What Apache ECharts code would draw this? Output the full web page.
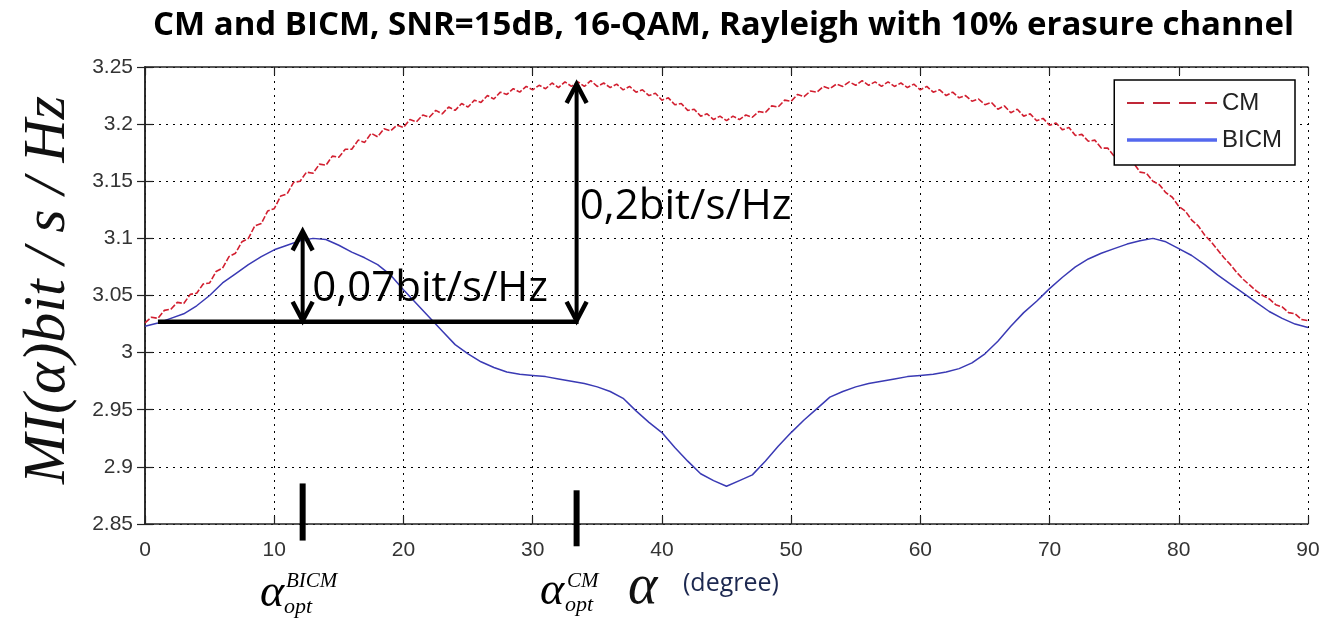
<!DOCTYPE html>
<html>
<head>
<meta charset="utf-8">
<script src="https://cdn.jsdelivr.net/npm/echarts@6/dist/echarts.min.js"></script>
<style>
  html, body { margin: 0; padding: 0; background: #fff; }
  #chart { width: 1323px; height: 618px; }
</style>
</head>
<body>
<div id="chart"></div>
<script>
// Mutual information vs rotation angle alpha (degrees), 16-QAM, SNR = 15 dB
const cmStep = 0.5;   // CM sampled every 0.5 degree
const bicmStep = 1;   // BICM sampled every 1 degree

const cmValues = [
  3.026, 3.031, 3.030, 3.037, 3.038, 3.044, 3.043, 3.051, 3.052, 3.060,
  3.061, 3.071, 3.074, 3.084, 3.087, 3.097, 3.100, 3.111, 3.113, 3.124,
  3.126, 3.137, 3.139, 3.149, 3.150, 3.158, 3.157, 3.165, 3.164, 3.172,
  3.171, 3.178, 3.178, 3.186, 3.184, 3.192, 3.189, 3.196, 3.194, 3.199,
  3.197, 3.204, 3.202, 3.208, 3.206, 3.212, 3.209, 3.215, 3.212, 3.218,
  3.215, 3.221, 3.219, 3.225, 3.222, 3.228, 3.226, 3.231, 3.228, 3.233,
  3.230, 3.234, 3.231, 3.236, 3.232, 3.237, 3.233, 3.237, 3.233, 3.238,
  3.233, 3.236, 3.232, 3.235, 3.230, 3.233, 3.228, 3.230, 3.225, 3.227,
  3.221, 3.223, 3.217, 3.218, 3.212, 3.213, 3.207, 3.209, 3.204, 3.207,
  3.203, 3.207, 3.204, 3.208, 3.206, 3.211, 3.210, 3.216, 3.215, 3.221,
  3.220, 3.226, 3.224, 3.229, 3.228, 3.233, 3.231, 3.235, 3.233, 3.237,
  3.234, 3.238, 3.234, 3.237, 3.233, 3.237, 3.233, 3.236, 3.232, 3.235,
  3.230, 3.233, 3.228, 3.230, 3.225, 3.228, 3.223, 3.225, 3.220, 3.222,
  3.217, 3.219, 3.213, 3.216, 3.210, 3.213, 3.207, 3.209, 3.203, 3.205,
  3.199, 3.201, 3.195, 3.197, 3.190, 3.191, 3.185, 3.186, 3.179, 3.179,
  3.172, 3.172, 3.165, 3.166, 3.158, 3.157, 3.150, 3.147, 3.140, 3.136,
  3.128, 3.124, 3.116, 3.111, 3.103, 3.097, 3.090, 3.083, 3.077, 3.070,
  3.064, 3.059, 3.054, 3.050, 3.047, 3.042, 3.040, 3.035, 3.034, 3.029,
  3.028
];

const bicmValues = [
  3.023, 3.026, 3.030, 3.034, 3.041, 3.050, 3.061, 3.069, 3.077, 3.084,
  3.090, 3.094, 3.098, 3.100, 3.099, 3.094, 3.088, 3.083, 3.077, 3.068,
  3.055, 3.043, 3.031, 3.019, 3.007, 2.999, 2.992, 2.987, 2.983, 2.981,
  2.980, 2.979, 2.977, 2.975, 2.973, 2.970, 2.966, 2.960, 2.949, 2.939,
  2.930, 2.917, 2.905, 2.894, 2.888, 2.883, 2.888, 2.893, 2.905, 2.918,
  2.930, 2.941, 2.951, 2.961, 2.966, 2.970, 2.973, 2.975, 2.977, 2.979,
  2.980, 2.981, 2.983, 2.986, 2.991, 2.999, 3.010, 3.023, 3.035, 3.045,
  3.056, 3.066, 3.075, 3.082, 3.087, 3.091, 3.095, 3.098, 3.100, 3.097,
  3.091, 3.085, 3.077, 3.068, 3.060, 3.052, 3.044, 3.036, 3.030, 3.025,
  3.022
];

const xTicks = [0, 10, 20, 30, 40, 50, 60, 70, 80, 90];
const yTicks = [2.85, 2.9, 2.95, 3, 3.05, 3.1, 3.15, 3.2, 3.25];

// Gap annotations: common reference level and the two optimum angles
const refLevel = 3.027;
const refSpan = [1.0, 33.4];
const optAngles = { BICM: 12.2, CM: 33.4 };
const arrowTops = { BICM: 3.107, CM: 3.236 };
const gapLabels = { BICM: '0,07bit/s/Hz', CM: '0,2bit/s/Hz' };
const gapLabelPos = { BICM: [12.95, 3.056], CM: [33.65, 3.127] };
// short markers straddling the x axis at each optimum angle
const optMarkerSpan = { BICM: [2.8855, 2.8355], CM: [2.8795, 2.8305] };

const toPairs = (vals, step) => vals.map((v, i) => [+(i * step).toFixed(2), v]);

const chart = echarts.init(document.getElementById('chart'), null, { renderer: 'canvas' });

const tickFont = { fontFamily: 'Liberation Sans, Arial, sans-serif', fontSize: 21, color: '#333' };
const dotted = { color: '#000', width: 1, type: [2, 5] };

function annotations(params, api) {
  const children = [];
  const stroke = (x1, y1, x2, y2, w) => ({
    type: 'line', shape: { x1, y1, x2, y2 },
    style: { stroke: '#000', lineWidth: w, lineCap: 'butt' }
  });
  const chevron = (tip, dir) => ({
    type: 'polyline',
    shape: { points: [[tip[0] - 10, tip[1] + dir * 20], [tip[0], tip[1] + dir * 1], [tip[0] + 10, tip[1] + dir * 20]] },
    style: { stroke: '#000', fill: 'none', lineWidth: 4.5, lineJoin: 'miter' }
  });
  const a = api.coord([refSpan[0], refLevel]);
  const b = api.coord([refSpan[1], refLevel]);
  children.push(stroke(a[0], a[1], b[0] + 2, b[1], 4.5));
  ['BICM', 'CM'].forEach(k => {
    const bottom = api.coord([optAngles[k], refLevel]);
    const top = api.coord([optAngles[k], arrowTops[k]]);
    children.push(stroke(top[0], top[1] + 2, bottom[0], bottom[1] - 2, 4));
    children.push(chevron(top, 1));
    children.push(chevron(bottom, -1));
    const lp = api.coord(gapLabelPos[k]);
    children.push({
      type: 'text',
      style: {
        text: gapLabels[k], x: lp[0], y: lp[1],
        font: '42px "Open Sans", "Noto Sans", sans-serif',
        fill: '#000', align: 'left', verticalAlign: 'middle'
      }
    });
    const m1 = api.coord([optAngles[k], optMarkerSpan[k][0]]);
    const m2 = api.coord([optAngles[k], optMarkerSpan[k][1]]);
    children.push(stroke(m1[0], m1[1], m2[0], m2[1], 6));
  });
  return { type: 'group', children };
}

const serif = '"Liberation Serif", "Times New Roman", serif';

chart.setOption({
  animation: false,
  backgroundColor: '#fff',
  title: {
    text: 'CM and BICM, SNR=15dB, 16-QAM, Rayleigh with 10% erasure channel',
    left: 148,
    top: 4,
    textStyle: { fontFamily: '"Open Sans", "Noto Sans", sans-serif', fontWeight: 'bold', fontSize: 33, color: '#000' }
  },
  grid: { left: 145, right: 15, top: 67, bottom: 94, containLabel: false },
  legend: {
    show: true,
    orient: 'vertical',
    right: 28,
    top: 80,
    backgroundColor: '#fff',
    borderColor: '#000',
    borderWidth: 1.5,
    padding: [11, 13, 13, 11],
    itemGap: 13,
    itemWidth: 90,
    itemHeight: 14,
    itemStyle: { opacity: 0 },
    textStyle: { fontFamily: 'Liberation Sans, Arial, sans-serif', fontSize: 24, color: '#222' },
    data: [
      { name: 'CM', lineStyle: { color: '#c02838', width: 2, type: [17, 9] } },
      { name: 'BICM', lineStyle: { color: '#5468ee', width: 3.5, type: 'solid' } }
    ]
  },
  xAxis: [
    {
      type: 'value', min: xTicks[0], max: xTicks[xTicks.length - 1], interval: 10,
      axisLine: { lineStyle: { color: '#222', width: 1.5 } },
      axisTick: { inside: true, length: 8, lineStyle: { color: '#222', width: 1.2 } },
      axisLabel: Object.assign({ margin: 16, formatter: v => String(v) }, tickFont),
      splitLine: { show: true, lineStyle: dotted }
    },
    {
      type: 'value', position: 'top', min: xTicks[0], max: xTicks[xTicks.length - 1], interval: 10,
      axisLine: { show: true, lineStyle: { color: '#222', width: 1.5 } },
      axisTick: { inside: true, length: 8, lineStyle: { color: '#222', width: 1.2 } },
      axisLabel: { show: false }, splitLine: { show: false }
    }
  ],
  yAxis: [
    {
      type: 'value', min: yTicks[0], max: yTicks[yTicks.length - 1], interval: 0.05,
      axisLine: { show: true, lineStyle: { color: '#222', width: 1.5 } },
      axisTick: { show: true, inside: true, length: 8, lineStyle: { color: '#222', width: 1.2 } },
      axisLabel: Object.assign({ margin: 12, formatter: v => String(parseFloat(v.toFixed(2))) }, tickFont),
      splitLine: { show: true, lineStyle: dotted }
    },
    {
      type: 'value', position: 'right', min: yTicks[0], max: yTicks[yTicks.length - 1], interval: 0.05,
      axisLine: { show: true, lineStyle: { color: '#222', width: 1.5 } },
      axisTick: { show: true, inside: true, length: 8, lineStyle: { color: '#222', width: 1.2 } },
      axisLabel: { show: false }, splitLine: { show: false }
    }
  ],
  series: [
    {
      name: 'CM', type: 'line', data: toPairs(cmValues, cmStep),
      symbol: 'none', smooth: false, z: 3,
      lineStyle: { color: '#d21f30', width: 1.6, type: [6, 2] },
      itemStyle: { color: '#d21f30' }
    },
    {
      name: 'BICM', type: 'line', data: toPairs(bicmValues, bicmStep),
      symbol: 'none', smooth: false, z: 3,
      lineStyle: { color: '#3a3ab4', width: 1.5 },
      itemStyle: { color: '#3a3ab4' }
    },
    {
      name: 'gaps', type: 'custom', data: [[0, 0]], renderItem: annotations,
      clip: false, z: 5, silent: true
    }
  ],
  graphic: [
    {
      type: 'text', x: 48, y: 290, rotation: Math.PI / 2,
      style: {
        text: 'MI(α)bit / s / Hz', font: 'italic 60px ' + serif,
        fill: '#111', align: 'center', verticalAlign: 'middle'
      }
    },
    { type: 'text', x: 260, y: 594, style: { text: 'α', font: 'italic 46px ' + serif, fill: '#000', align: 'left', verticalAlign: 'middle' } },
    { type: 'text', x: 286, y: 581, style: { text: 'BICM', font: 'italic 21px ' + serif, fill: '#000', align: 'left', verticalAlign: 'middle' } },
    { type: 'text', x: 284, y: 607, style: { text: 'opt', font: 'italic 22px ' + serif, fill: '#000', align: 'left', verticalAlign: 'middle' } },
    { type: 'text', x: 540, y: 592, style: { text: 'α', font: 'italic 46px ' + serif, fill: '#000', align: 'left', verticalAlign: 'middle' } },
    { type: 'text', x: 567, y: 581, style: { text: 'CM', font: 'italic 21px ' + serif, fill: '#000', align: 'left', verticalAlign: 'middle' } },
    { type: 'text', x: 565, y: 605, style: { text: 'opt', font: 'italic 22px ' + serif, fill: '#000', align: 'left', verticalAlign: 'middle' } },
    { type: 'text', x: 628, y: 588, style: { text: 'α', font: 'italic 56px ' + serif, fill: '#111', align: 'left', verticalAlign: 'middle' } },
    { type: 'text', x: 683, y: 584, style: { text: '(degree)', font: '25px "Open Sans", "Noto Sans", sans-serif', fill: '#1c2850', align: 'left', verticalAlign: 'middle' } }
  ]
});
</script>
</body>
</html>
